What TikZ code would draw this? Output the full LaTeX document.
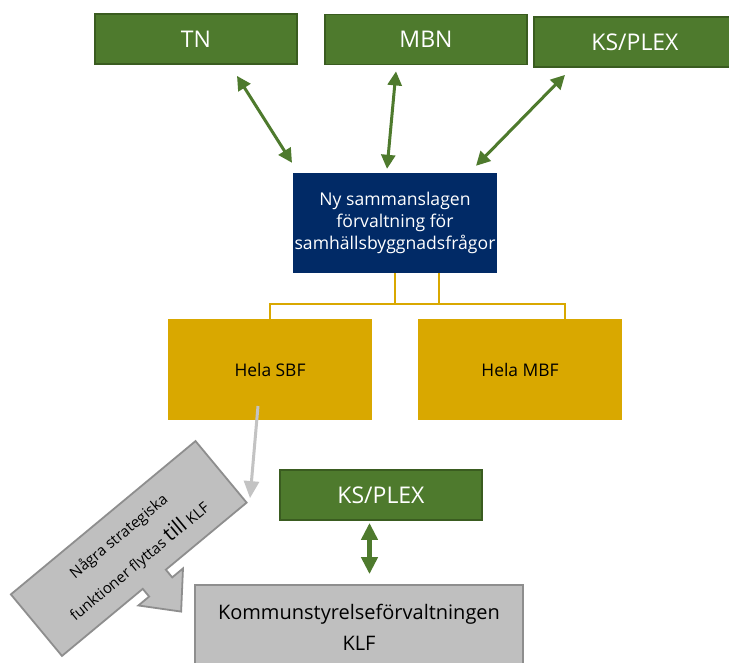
\documentclass[tikz,border=0pt]{standalone}
\usepackage{fontspec}
\setmainfont{Open Sans}
\usetikzlibrary{arrows.meta,calc}

\definecolor{boxgreen}{HTML}{4E7A2D}
\definecolor{boxgreenline}{HTML}{3A5C20}
\definecolor{navyblue}{HTML}{012A66}
\definecolor{gold}{HTML}{D9A800}
\definecolor{klfgray}{HTML}{BFBFBF}
\definecolor{klfline}{HTML}{8E8E8E}
\definecolor{paleline}{HTML}{C3C3C3}

\begin{document}
\begin{tikzpicture}[x=1pt,y=-1pt,
  greenbox/.style={draw=boxgreenline, line width=1.8pt, fill=boxgreen, text=white,
    minimum width=202pt, minimum height=50pt, inner sep=0pt,
    font=\fontsize{23}{27}\selectfont},
  navybox/.style={fill=navyblue, text=white, minimum width=204pt, minimum height=100pt,
    inner sep=0pt, align=center, font=\fontsize{17.6}{21.7}\selectfont},
  goldbox/.style={fill=gold, text=black, minimum width=204pt, minimum height=101pt,
    inner sep=0pt, font=\fontsize{17.4}{20}\selectfont},
  graybox/.style={draw=klfline, line width=1.8pt, fill=klfgray, text=black,
    minimum width=328pt, minimum height=85pt, inner sep=0pt, align=center,
    font=\fontsize{20}{31}\selectfont},
  goldline/.style={draw=gold, line width=2.2pt},
  linkarrow/.style={draw=boxgreen, line width=3pt,
    {Triangle[length=14pt,width=14pt]}-{Triangle[length=14pt,width=14pt]}},
  bigarrow/.style={draw=boxgreen, line width=4.5pt,
    {Triangle[length=17pt,width=16pt]}-{Triangle[length=17pt,width=16pt]}},
  movearrow/.style={draw=paleline, line width=3pt, -{Triangle[length=17pt,width=15pt]}},
  calloutshape/.style={draw=klfline, line width=1.8pt, fill=klfgray},
  callouttext/.style={text=black, inner sep=0pt, font=\fontsize{15}{18}\selectfont}
]
\clip (0,0) rectangle (729,662);
\fill[white] (0,0) rectangle (729,662);

% committees on top
\node[greenbox] (tn)  at (196,39)   {TN};
\node[greenbox] (mbn) at (426,39.5) {MBN};
\node[greenbox] (ks)  at (635,42)   {KS/PLEX};

% merged administration
\node[navybox] (navy) at (395,223)
  {Ny sammanslagen\\förvaltning för\\samhällsbyggnadsfrågor};

% the two parts below it
\node[goldbox] (sbf) at (270,369.5) {Hela SBF};
\node[goldbox] (mbf) at (520,369.5) {Hela MBF};

% lower part
\node[greenbox] (ks2) at (381,495) {KS/PLEX};
\node[graybox] (klf) at (359,627.5) {Kommunstyrelseförvaltningen\\KLF};

% links between committees and the merged administration
\draw[linkarrow] ($(tn.south)+(41,11)$)  -- ($(navy.north)+(-103,-10)$);
\draw[linkarrow] ($(mbn.south)+(-30,6)$) -- ($(navy.north)+(-8,-4)$);
\draw[linkarrow] ($(ks.south)+(-70,7)$)  -- ($(navy.north)+(81,-7)$);
\draw[bigarrow]  ($(ks2.south)+(-11.5,2)$) -- ($(klf.north)+(10.5,-10)$);

% organisation bracket
\draw[goldline] (navy.south) -- ++(0,31);
\draw[goldline] ($(navy.south)+(44,0)$) -- ++(0,31);
\draw[goldline] (sbf.north) -- ++(0,-15) -| ($(mbf.north)+(45,0)$);

% tilted callout with its arrow
\begin{scope}[shift={(128.75,548.5)}, rotate=39.7]
  \draw[calloutshape] (-120,-40) -- (120,-40) -- (120,40) -- (15,40) -- (15,50)
    -- (29,50) -- (0,82) -- (-29,50) -- (-15,50) -- (-15,40) -- (-120,40) -- cycle;
  \node[callouttext, rotate=39.7] (callout1) at (0,-15) {Några strategiska};
  \node[callouttext, rotate=39.7] (callout2) at (0,16)
    {funktioner flyttas {\fontsize{21}{21}\selectfont till} KLF};
  \coordinate (callout-corner) at (125.5,38.7);
\end{scope}

\draw[movearrow] ($(sbf.center)+(-12,36.5)$) -- (callout-corner);
\end{tikzpicture}
\end{document}
